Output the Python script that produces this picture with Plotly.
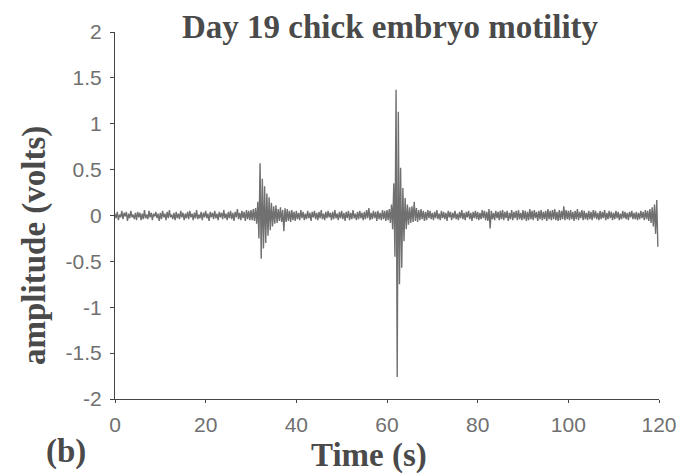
import numpy as np
import plotly.graph_objects as go

# Sampling: one reading every 0.25 s from 0 to 119.75 s
sample_step = 0.25

# Amplitude (volts), 20 samples (5 s) per row
amplitude = [
    0.02,-0.03,0.04,-0.05,0.01,-0.02,0.05,-0.04,0.03,-0.01,0.04,-0.06,0.02,-0.03,0.05,-0.02,0.01,-0.04,0.03,-0.05,
    0.04,-0.02,0.03,-0.05,0.02,-0.04,0.06,-0.03,0.01,-0.04,0.05,-0.02,0.03,-0.05,0.02,-0.01,0.04,-0.03,0.02,-0.06,
    0.03,-0.04,0.05,-0.02,0.02,-0.05,0.04,-0.03,0.06,-0.02,0.01,-0.04,0.03,-0.05,0.04,-0.03,0.02,-0.04,0.05,-0.02,
    0.03,-0.05,0.02,-0.03,0.04,-0.04,0.05,-0.02,0.02,-0.05,0.03,-0.03,0.06,-0.04,0.01,-0.03,0.04,-0.05,0.03,-0.02,
    0.05,-0.03,0.02,-0.06,0.04,-0.02,0.03,-0.04,0.05,-0.03,0.02,-0.05,0.04,-0.02,0.03,-0.04,0.06,-0.03,0.02,-0.05,
    0.04,-0.03,0.05,-0.04,0.03,-0.06,0.04,-0.02,0.07,-0.04,0.03,-0.05,0.05,-0.03,0.04,-0.06,0.06,-0.04,0.05,-0.05,
    0.06,-0.05,0.07,-0.06,0.08,-0.09,0.15,-0.25,0.57,-0.47,0.40,-0.36,0.32,-0.30,0.24,-0.22,0.20,-0.16,0.14,-0.12,
    0.10,-0.09,0.11,-0.08,0.07,-0.06,0.09,-0.07,0.06,-0.17,0.08,-0.07,0.07,-0.06,0.05,-0.07,0.06,-0.05,0.04,-0.06,
    0.05,-0.04,0.03,-0.05,0.06,-0.03,0.04,-0.05,0.02,-0.04,0.05,-0.03,0.03,-0.06,0.04,-0.02,0.05,-0.04,0.03,-0.05,
    0.04,-0.03,0.06,-0.04,0.02,-0.05,0.04,-0.03,0.05,-0.02,0.03,-0.05,0.04,-0.04,0.06,-0.03,0.02,-0.05,0.04,-0.03,
    0.05,-0.04,0.03,-0.06,0.04,-0.03,0.05,-0.05,0.03,-0.04,0.06,-0.03,0.02,-0.05,0.04,-0.04,0.05,-0.03,0.03,-0.05,
    0.04,-0.04,0.06,-0.03,0.08,-0.05,0.03,-0.04,0.05,-0.03,0.04,-0.06,0.05,-0.04,0.03,-0.05,0.06,-0.04,0.05,-0.06,
    0.06,-0.05,0.07,-0.08,0.12,-0.15,0.35,-0.45,1.37,-1.76,1.13,-0.75,0.52,-0.57,0.30,-0.28,0.19,-0.15,0.12,-0.10,
    0.09,-0.08,0.10,-0.07,0.15,-0.06,0.08,-0.07,0.06,-0.05,0.07,-0.04,0.05,-0.06,0.04,-0.05,0.06,-0.03,0.05,-0.04,
    0.03,-0.05,0.04,-0.03,0.06,-0.04,0.02,-0.05,0.05,-0.03,0.04,-0.04,0.03,-0.06,0.05,-0.02,0.04,-0.05,0.03,-0.03,
    0.05,-0.04,0.02,-0.05,0.04,-0.03,0.06,-0.04,0.03,-0.05,0.04,-0.02,0.05,-0.04,0.03,-0.06,0.04,-0.03,0.05,-0.04,
    0.04,-0.05,0.03,-0.04,0.06,-0.03,0.05,-0.05,0.04,-0.06,0.07,-0.14,0.05,-0.04,0.03,-0.05,0.05,-0.03,0.04,-0.05,
    0.05,-0.04,0.06,-0.05,0.04,-0.03,0.05,-0.06,0.03,-0.04,0.06,-0.05,0.04,-0.03,0.05,-0.05,0.06,-0.04,0.03,-0.05,
    0.06,-0.04,0.05,-0.06,0.04,-0.05,0.07,-0.04,0.05,-0.05,0.06,-0.03,0.04,-0.06,0.05,-0.04,0.06,-0.05,0.04,-0.04,
    0.05,-0.06,0.07,-0.04,0.05,-0.05,0.06,-0.04,0.07,-0.05,0.04,-0.06,0.06,-0.05,0.05,-0.04,0.10,-0.05,0.06,-0.04,
    0.05,-0.05,0.06,-0.04,0.04,-0.06,0.05,-0.04,0.07,-0.05,0.04,-0.03,0.06,-0.05,0.05,-0.04,0.03,-0.05,0.05,-0.04,
    0.04,-0.05,0.06,-0.03,0.05,-0.04,0.03,-0.05,0.05,-0.04,0.04,-0.03,0.06,-0.05,0.03,-0.04,0.05,-0.03,0.04,-0.05,
    0.03,-0.04,0.05,-0.03,0.04,-0.05,0.02,-0.04,0.05,-0.03,0.04,-0.04,0.03,-0.05,0.04,-0.02,0.05,-0.04,0.03,-0.04,
    0.04,-0.05,0.03,-0.04,0.05,-0.03,0.04,-0.05,0.06,-0.04,0.05,-0.06,0.07,-0.08,0.09,-0.12,0.12,-0.20,0.17,-0.34,
]
time_s = np.arange(len(amplitude)) * sample_step

x_tick_vals = [0, 20, 40, 60, 80, 100, 120]
x_tick_text = ["0", "20", "40", "60", "80", "100", "120"]
y_tick_vals = [2, 1.5, 1, 0.5, 0, -0.5, -1, -1.5, -2]
y_tick_text = ["2", "1.5", "1", "0.5", "0", "-0.5", "-1", "-1.5", "-2"]

title_text = "Day 19 chick embryo motility"
x_title = "Time (s)"
y_title = "amplitude (volts)"
panel_label = "(b)"

serif = "Liberation Serif, Times New Roman, serif"
sans = "Liberation Sans, Arial, sans-serif"
text_col = "#4a4a4a"

fig = go.Figure()
fig.add_trace(go.Scatter(
    x=time_s, y=amplitude, mode="lines",
    line=dict(color="#707070", width=1.4),
    showlegend=False, hoverinfo="skip",
))

# page body has an 8px margin, so the figure is 8px smaller than the window
fig.update_layout(
    width=688, height=466,
    margin=dict(l=107, r=37, t=24, b=75),
    paper_bgcolor="white", plot_bgcolor="white",
    xaxis=dict(range=[0, 120], tickvals=x_tick_vals, ticktext=x_tick_text,
               showline=True, linecolor="#444", linewidth=1,
               ticks="outside", ticklen=3, tickcolor="#444",
               ticklabelstandoff=4,
               showgrid=False, zeroline=False,
               tickfont=dict(family=sans, size=21, color="#707070")),
    yaxis=dict(range=[-2, 2], tickvals=y_tick_vals, ticktext=y_tick_text,
               showline=True, linecolor="#444", linewidth=1,
               ticks="outside", ticklen=4, tickcolor="#444",
               ticklabelstandoff=4,
               showgrid=False, zeroline=False,
               tickfont=dict(family=sans, size=21, color="#707070")),
)

def label(text, x, y, angle=0):
    fig.add_annotation(text=f"<b>{text}</b>", xref="paper", yref="paper",
                       x=x, y=y, xanchor="center", yanchor="middle",
                       textangle=angle, showarrow=False,
                       font=dict(family=serif, size=33, color=text_col))

label(title_text, 0.506, 1.013)
label(y_title, -0.147, 0.417, angle=-90)
label(x_title, 0.467, -0.153)
label(panel_label, -0.090, -0.144)

fig.write_html("out.html")
